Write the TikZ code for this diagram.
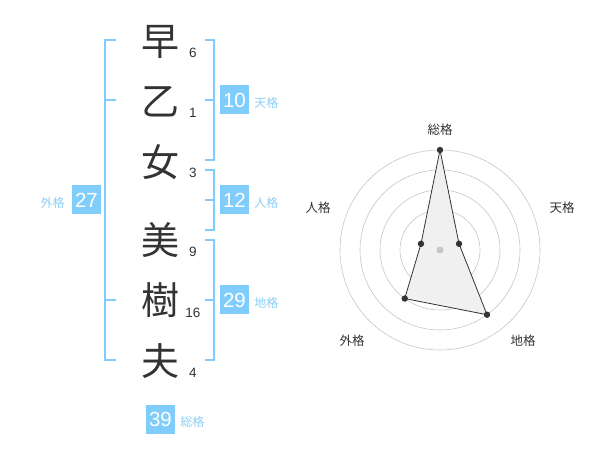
\documentclass[tikz,border=0pt]{standalone}
\usepackage{fontspec}
\setmainfont{Liberation Sans}
\newfontfamily\jpfont{Noto Sans CJK JP}
\usepackage{xcolor}
\usetikzlibrary{positioning}
\definecolor{kakublue}{HTML}{80CCFA}
\definecolor{kakutext}{HTML}{8AD0F8}
\definecolor{inkgray}{HTML}{333333}
\tikzset{
  kanji/.style={text=inkgray, inner sep=0pt, font=\jpfont\fontsize{38}{38}\selectfont},
  strokes/.style={text=inkgray, inner sep=0pt, font=\fontsize{13.5}{13.5}\selectfont},
  bracket/.style={draw=kakublue, line width=1.6pt},
  numbox/.style={fill=kakublue, text=white, minimum size=29pt, inner sep=0pt,
    font=\fontsize{20.5}{20.5}\selectfont},
  kakulabel/.style={text=kakutext, inner sep=0pt, font=\jpfont\fontsize{12}{12}\selectfont},
  ring/.style={draw=black!22, line width=0.6pt},
  radarline/.style={draw=inkgray, line width=0.8pt, fill=black!6},
  axislabel/.style={text=inkgray, inner sep=0pt, font=\jpfont\fontsize{12.5}{12.5}\selectfont}
}
\begin{document}
\begin{tikzpicture}[x=1pt, y=-1pt]
  \useasboundingbox[fill=white] (0,0) rectangle (600,470);

  % name column
  \node[kanji] (c1) at (160,42) {早};
  \node[kanji] (c2) at (160,102) {乙};
  \node[kanji] (c3) at (160,162) {女};
  \node[kanji] (c4) at (160,240) {美};
  \node[kanji] (c5) at (160,300) {樹};
  \node[kanji] (c6) at (160,361) {夫};

  \node[strokes] (s1) at (193,53) {6};
  \node[strokes] (s2) at (193,113) {1};
  \node[strokes] (s3) at (193,173) {3};
  \node[strokes] (s4) at (193,252) {9};
  \node[strokes] (s5) at (193,313) {16};
  \node[strokes] (s6) at (193,373) {4};

  % brackets
  \draw[bracket] (116,40) -- (105,40) -- (105,360) -- (116,360);
  \draw[bracket] (105,100) -- (116,100);
  \draw[bracket] (105,300) -- (116,300);
  \foreach \top/\mid/\bot in {40/100/160, 170/200/230, 240/300/360} {
    \draw[bracket] (205,\top) -- (214,\top) -- (214,\bot) -- (205,\bot);
    \draw[bracket] (214,\mid) -- (205,\mid);
  }

  \node[numbox] (ten) at (234.5,100) {10};
  \node[numbox] (jin) at (234.5,200) {12};
  \node[numbox] (chi) at (234.5,300) {29};
  \node[numbox] (gai) at (86.5,200) {27};
  \node[numbox] (sou) at (160.5,419) {39};
  \node[kakulabel, right=5pt of ten, yshift=-3pt] (tenl) {天格};
  \node[kakulabel, right=5pt of jin, yshift=-3pt] (jinl) {人格};
  \node[kakulabel, right=5pt of chi, yshift=-3pt] (chil) {地格};
  \node[kakulabel, left=7pt of gai, yshift=-3pt] (gail) {外格};
  \node[kakulabel, right=5pt of sou, yshift=-3pt] (soul) {総格};

  % radar chart
  \coordinate (ctr) at (440,250);
  \foreach \r in {20,40,...,100}
    \draw[ring] (ctr) circle[radius=\r pt];
  \coordinate (p1) at ([shift={(-90:100)}]ctr);
  \coordinate (p2) at ([shift={(-18:20)}]ctr);
  \coordinate (p3) at ([shift={(54:80)}]ctr);
  \coordinate (p4) at ([shift={(126:60)}]ctr);
  \coordinate (p5) at ([shift={(198:20)}]ctr);
  \draw[radarline] (p1) -- (p2) -- (p3) -- (p4) -- (p5) -- cycle;
  \foreach \p in {p1,p2,p3,p4,p5}
    \fill[inkgray] (\p) circle[radius=3.2pt];
  \fill[black!22] (ctr) circle[radius=3.5pt];

  \node[axislabel] (a1) at (440,130) {総格};
  \node[axislabel] (a2) at (562,208) {天格};
  \node[axislabel] (a3) at (523,341) {地格};
  \node[axislabel] (a4) at (352,341) {外格};
  \node[axislabel] (a5) at (318,208) {人格};
\end{tikzpicture}
\end{document}
